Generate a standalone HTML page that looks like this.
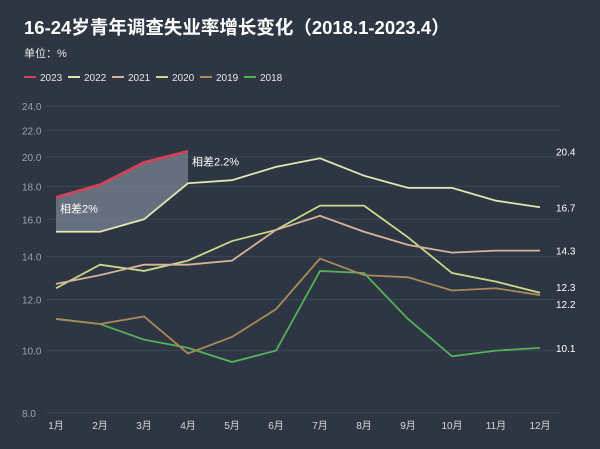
<!DOCTYPE html>
<html><head><meta charset="utf-8"><style>
body{margin:0;background:#2e3644;}
svg{display:block;font-family:"Liberation Sans","Noto Sans CJK SC",sans-serif;}
</style></head><body>
<svg id="c" width="600" height="449">
<rect width="600" height="449" fill="#2e3644"/>
<text x="24" y="34" fill="#fff" font-size="18.5" font-weight="bold">16-24岁青年调查失业率增长变化（2018.1-2023.4）</text>
<text x="24" y="57" fill="#e8e8e8" font-size="11">单位：%</text>
<g id="legend"></g>
<g id="grid"></g>
<g id="plot"></g>
</svg>
<script>
const months=["1月","2月","3月","4月","5月","6月","7月","8月","9月","10月","11月","12月"];
const yTicks=[8,10,12,14,16,18,20,22,24];
const years=["2023","2022","2021","2020","2019","2018"];
const colors=["#c9465c","#dfe8b4","#d6b49a","#c9d98a","#a98a5a","#55b05a"];
const s2023=[17.3,18.1,19.6,20.4];
const s2022=[15.3,15.3,16.0,18.2,18.4,19.3,19.9,18.7,17.9,17.9,17.1,16.7];
const s2021=[12.7,13.1,13.6,13.6,13.8,15.4,16.2,15.3,14.6,14.2,14.3,14.3];
const s2020=[12.5,13.6,13.3,13.8,14.8,15.4,16.8,16.8,15.0,13.2,12.8,12.3];
const s2019=[11.2,11.0,11.3,9.9,10.5,11.6,13.9,13.1,13.0,12.4,12.5,12.2];
const s2018=[11.2,11.0,10.4,10.1,9.6,10.0,13.3,13.2,11.2,9.8,10.0,10.1];
const endLabels=["20.4","16.7","14.3","12.3","12.2","10.1"];
const endVals=[20.4,16.7,14.3,12.3,12.2,10.1];
const endNudge=[0,0,0,-6,9,0];
const NS="http://www.w3.org/2000/svg";
const x=i=>56+i*44;
const y=v=>413-279.5*Math.log(v/8);
function mk(t,a,p){const e=document.createElementNS(NS,t);for(const k in a)e.setAttribute(k,a[k]);p.appendChild(e);return e;}
const grid=document.getElementById('grid'),plot=document.getElementById('plot'),leg=document.getElementById('legend');
yTicks.forEach(v=>{
 const l=mk('line',{x1:46,x2:560,y1:y(v),y2:y(v),stroke:'#3d4656','stroke-width':1},grid);
 
 
 const t=mk('text',{x:22,y:y(v)+4,fill:'#9aa2ae','font-size':10},grid);t.textContent=v.toFixed(1);
 
 
});
months.forEach((m,i)=>{
 const t=mk('text',{x:x(i),y:429,fill:'#d8d8d8','font-size':10,'text-anchor':'middle'},grid);t.textContent=m;
 
 
});
let d='M'+s2023.map((v,i)=>x(i)+','+y(v)).join(' L');
for(let i=s2023.length-1;i>=0;i--)d+=' L'+x(i)+','+y(s2022[i]);
const f=mk('path',{d:d+'Z',fill:'#8a96a4','fill-opacity':0.6},plot);


const series=[s2023,s2022,s2021,s2020,s2019,s2018];
for(let k=series.length-1;k>=0;k--){
 const p=mk('polyline',{points:series[k].map((v,i)=>x(i)+','+y(v)).join(' '),fill:'none',stroke:colors[k],'stroke-width':k==0?3:1.8},plot);
 
 
}
endVals.forEach((v,i)=>{
 const t=mk('text',{x:556,y:y(v)+4+endNudge[i],fill:'#fff','font-size':10},plot);t.textContent=endLabels[i];
 
 
});
const a1=mk('text',{x:60,y:y(16.4),fill:'#fff','font-size':11},plot);a1.textContent='相差2%';


const a2=mk('text',{x:192,y:y(19.4),fill:'#fff','font-size':11},plot);a2.textContent='相差2.2%';


let lx=24;
years.forEach((yr,i)=>{
 const g=mk('g',{},leg);
 
 
 mk('line',{x1:lx,x2:lx+12,y1:77,y2:77,stroke:colors[i],'stroke-width':2},g);
 const t=mk('text',{x:lx+16,y:81,fill:'#e8e8e8','font-size':10},g);t.textContent=yr;
 lx+=44;
});
</script>
</body></html>
